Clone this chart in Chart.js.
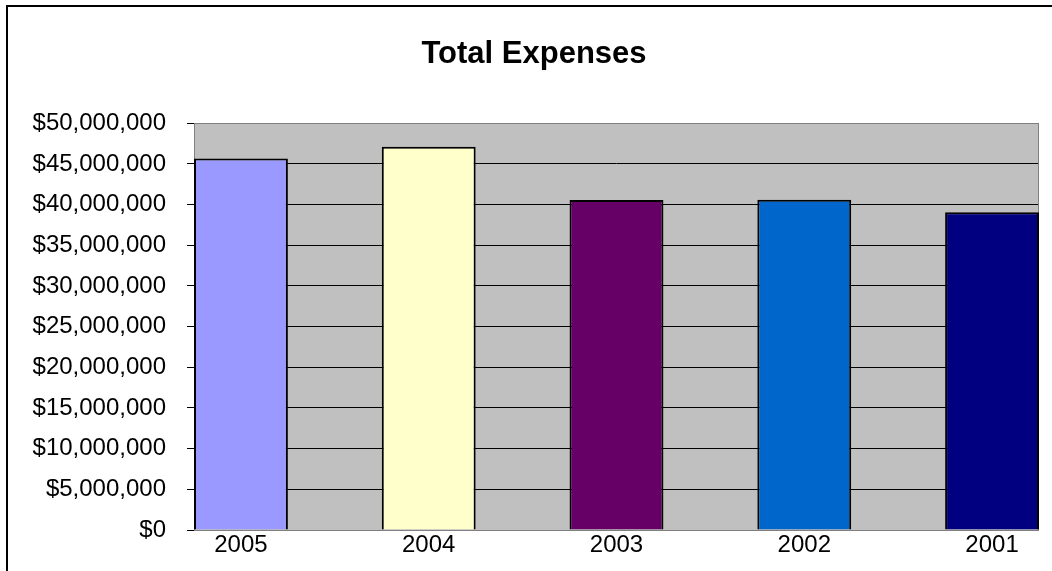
<!DOCTYPE html>
<html>
<head>
<meta charset="utf-8">
<script src="https://cdn.jsdelivr.net/npm/chart.js@4/dist/chart.umd.min.js"></script>
<style>
  html, body { margin: 0; padding: 0; background: #fff; overflow: hidden; }
  #wrap { position: relative; width: 1052px; height: 571px; }
  #frame { position: absolute; left: 6px; top: 5px; width: 1200px; height: 700px; border: 2px solid #000; }
  canvas { position: absolute; left: 0; top: 0; }
</style>
</head>
<body>
<div id="wrap">
  <div id="frame"></div>
  <canvas id="bar-chart" width="1052" height="571"></canvas>
</div>
<script>
// values
const years = ['2005', '2004', '2003', '2002', '2001'];
const expenses = [45650000, 47100000, 40550000, 40600000, 39050000];
const barColors = ['#9999ff', '#ffffcc', '#660066', '#0066cc', '#000080'];
const yTicks = [0, 5000000, 10000000, 15000000, 20000000, 25000000, 30000000, 35000000, 40000000, 45000000, 50000000];

const FONT = '"Liberation Sans", Arial, sans-serif';

// grey plot area with a grey frame, like the spreadsheet chart
const plotArea = {
  id: 'plotArea',
  beforeDraw(chart) {
    const { ctx, chartArea: a } = chart;
    ctx.save();
    ctx.fillStyle = '#c0c0c0';
    ctx.fillRect(a.left, a.top, a.right - a.left, a.bottom - a.top);
    ctx.restore();
  },
  beforeDatasetsDraw(chart) {
    const { ctx, chartArea: a } = chart;
    ctx.save();
    ctx.strokeStyle = '#808080';
    ctx.lineWidth = 1;
    ctx.strokeRect(Math.round(a.left) + 0.5, Math.round(a.top) + 0.5,
      Math.round(a.right - a.left) - 1, Math.round(a.bottom - a.top));
    ctx.restore();
  }
};

let config = {
  type: 'bar',
  data: {
    datasets: [{
      data: expenses.map((v, i) => ({ x: i, y: v })),
      backgroundColor: barColors,
      borderColor: '#000',
      borderWidth: 2,
      barPercentage: 0.5,
      categoryPercentage: 1
    }]
  },
  options: {
    responsive: false,
    animation: false,
    layout: { padding: { left: 29, right: 13, top: 0, bottom: 0 } },
    plugins: {
      legend: { display: false },
      tooltip: { enabled: false },
      title: {
        display: true,
        text: 'Total Expenses',
        color: '#000',
        font: { family: FONT, size: 31, weight: 'bold' },
        padding: { top: 36, bottom: 50 }
      }
    },
    scales: {
      x: {
        type: 'linear',
        min: -0.25,
        max: 4.25,
        offset: false,
        bounds: 'data',
        grid: { display: false },
        border: { display: false },
        afterBuildTicks: (scale) => { scale.ticks = years.map((y, i) => ({ value: i })); },
        afterFit: (scale) => { scale.height = 41; },
        ticks: {
          color: '#000',
          font: { family: FONT, size: 24 },
          padding: -7,
          maxRotation: 0,
          autoSkip: false,
          callback: (v) => years[v]
        }
      },
      y: {
        min: 0,
        max: 50000000,
        afterBuildTicks: (scale) => { scale.ticks = yTicks.map(v => ({ value: v })); },
        afterFit: (scale) => { scale.width = 165; },
        grid: { color: '#000', lineWidth: 1, tickLength: 7, tickColor: '#000' },
        border: { display: false },
        ticks: {
          color: '#000',
          font: { family: FONT, size: 24 },
          padding: 21,
          callback: (v) => '$' + v.toLocaleString('en-US')
        }
      }
    }
  },
  plugins: [plotArea]
};

let ctxBar = document.getElementById('bar-chart').getContext('2d');
window.myBar = new Chart(ctxBar, config);
</script>
</body>
</html>
